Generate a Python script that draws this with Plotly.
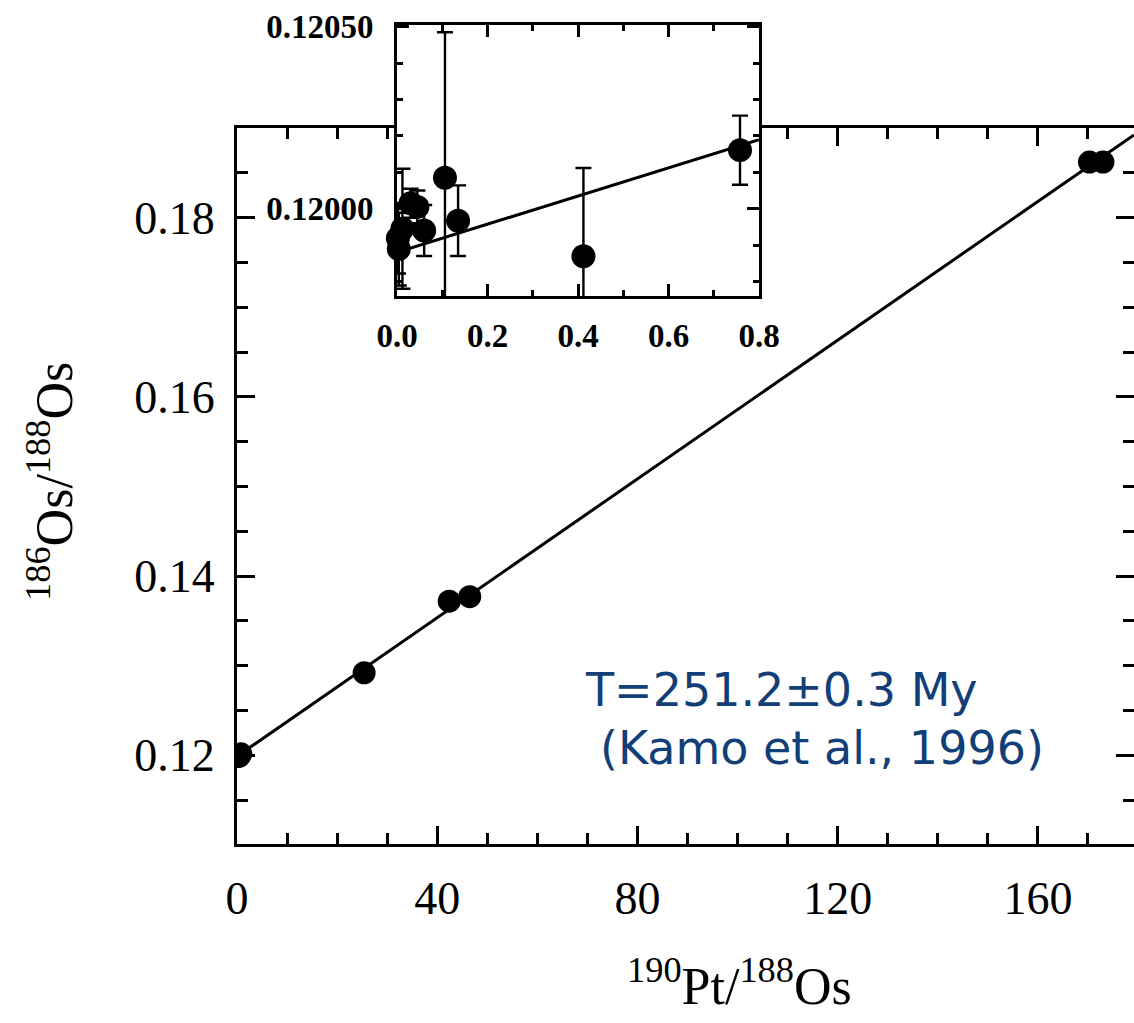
import plotly.graph_objects as go

W, H = 1134, 1023

# ---------------- data ----------------
# low-Pt/Os samples (shown in the inset; they also sit at x~0 in the main panel)
low_pt_os = [0.002, 0.004, 0.012, 0.030, 0.045, 0.060, 0.106, 0.135, 0.412, 0.758]
low_os_os = [0.119919, 0.119889, 0.119945, 0.120015, 0.120005, 0.119940,
             0.120085, 0.119967, 0.119869, 0.120161]
low_err = [0.000097, 0.000100, 0.000165, 0.000040, 0.000045, 0.000070,
           0.000400, 0.000097, 0.000243, 0.000095]

# high-Pt/Os samples (main panel)
high_pt_os = [25.4, 42.4, 46.5, 170.3, 173.0]
high_os_os = [0.1292, 0.1372, 0.1377, 0.1862, 0.1862]

# isochron
iso_intercept = 0.11988
iso_slope = 0.000387

main_xrange = [0, 179.2]
main_yrange = [0.1101, 0.1900]
inset_xrange = [0, 0.8]
inset_yrange = [0.11976, 0.120505]

age_text = "T=251.2±0.3 My"
ref_text = "(Kamo et al., 1996)"
x_title = "<sup>190</sup>Pt/<sup>188</sup>Os"
y_title = "<sup>186</sup>Os/<sup>188</sup>Os"

# ---------------- helpers ----------------
def fx(p):
    return p / W

def fy(p):
    return 1 - p / H

SERIF = "Liberation Serif"
BLUE = "#123f78"

fig = go.Figure()

all_x = low_pt_os + high_pt_os
all_y = low_os_os + high_os_os

# main panel: isochron + points
fig.add_trace(go.Scatter(
    x=main_xrange,
    y=[iso_intercept + iso_slope * v for v in main_xrange],
    mode="lines", line=dict(color="black", width=3),
    xaxis="x", yaxis="y", showlegend=False, hoverinfo="skip"))
fig.add_trace(go.Scatter(
    x=all_x, y=all_y, mode="markers",
    marker=dict(color="black", size=23),
    xaxis="x", yaxis="y", showlegend=False))
# empty trace for the right-hand tick axis
fig.add_trace(go.Scatter(x=[], y=[], xaxis="x", yaxis="y3", showlegend=False))

# inset: isochron + points with error bars
fig.add_trace(go.Scatter(
    x=inset_xrange,
    y=[iso_intercept + iso_slope * v for v in inset_xrange],
    mode="lines", line=dict(color="black", width=3),
    xaxis="x2", yaxis="y2", showlegend=False, hoverinfo="skip"))
fig.add_trace(go.Scatter(
    x=low_pt_os, y=low_os_os, mode="markers",
    marker=dict(color="black", size=24),
    error_y=dict(type="data", array=low_err, visible=True,
                 color="black", thickness=2.4, width=8),
    cliponaxis=False,
    xaxis="x2", yaxis="y2", showlegend=False))

main_tick = dict(ticks="inside", ticklen=18, tickwidth=2.5, tickcolor="black",
                 showline=True, linecolor="black", linewidth=3,
                 showgrid=False, zeroline=False, automargin=False,
                 tickfont=dict(family=SERIF, size=46, color="black"))

fig.update_layout(
    template="none",
    width=W, height=H, autosize=False,
    margin=dict(l=0, r=0, t=0, b=0, pad=0),
    paper_bgcolor="white", plot_bgcolor="white",
    xaxis=dict(domain=[fx(237), 1.0], range=main_xrange, anchor="y",
               tick0=0, dtick=40, mirror="ticks", ticklabelstandoff=12,
               minor=dict(ticks="inside", dtick=10, tick0=0, ticklen=11,
                          tickwidth=2.5, tickcolor="black", showgrid=False),
               **main_tick),
    yaxis=dict(domain=[fy(844), fy(128)], range=main_yrange, anchor="x",
               tick0=0.12, dtick=0.02, tickformat=".2f", ticklabelstandoff=10,
               minor=dict(ticks="inside", dtick=0.005, tick0=0.12, ticklen=11,
                          tickwidth=2.5, tickcolor="black", showgrid=False),
               **main_tick),
    yaxis3=dict(overlaying="y", side="right", anchor="x", range=main_yrange,
                tick0=0.12, dtick=0.02, showticklabels=False, showline=False,
                ticks="inside", ticklen=18, tickwidth=2.5, tickcolor="black",
                showgrid=False, zeroline=False, automargin=False,
                minor=dict(ticks="inside", dtick=0.005, tick0=0.12, ticklen=11,
                           tickwidth=2.5, tickcolor="black", showgrid=False)),
    xaxis2=dict(domain=[fx(397), fx(759)], range=inset_xrange, anchor="y2",
                tick0=0, dtick=0.2, tickformat=".1f", mirror="ticks",
                ticks="inside", ticklen=12, tickwidth=2.5, tickcolor="black",
                showline=True, linecolor="black", linewidth=3,
                showgrid=False, zeroline=False, ticklabelstandoff=8,
                automargin=False,
                tickfont=dict(family=SERIF, size=33, color="black", weight="bold"),
                minor=dict(ticks="inside", dtick=0.1, tick0=0, ticklen=6,
                           tickwidth=2.5, tickcolor="black", showgrid=False)),
    yaxis2=dict(domain=[fy(296), fy(25)], range=inset_yrange, anchor="x2",
                tickmode="array", tickvals=[0.12, 0.1205],
                ticktext=["0.12000", "0.12050"], mirror="ticks",
                ticks="inside", ticklen=12, tickwidth=2.5, tickcolor="black",
                showline=True, linecolor="black", linewidth=3,
                showgrid=False, zeroline=False, ticklabelstandoff=14,
                automargin=False,
                tickfont=dict(family=SERIF, size=33, color="black", weight="bold"),
                minor=dict(ticks="inside", tickmode="linear", dtick=0.0001,
                           tick0=0.12, ticklen=6, tickwidth=2.5,
                           tickcolor="black", showgrid=False)),
    annotations=[
        dict(text=age_text, xref="paper", yref="paper", x=fx(583), y=fy(690),
             xanchor="left", yanchor="middle", showarrow=False,
             font=dict(family="DejaVu Sans", size=46, color=BLUE)),
        dict(text=ref_text, xref="paper", yref="paper", x=fx(598), y=fy(748),
             xanchor="left", yanchor="middle", showarrow=False,
             font=dict(family="DejaVu Sans", size=46, color=BLUE)),
        dict(text=x_title, xref="paper", yref="paper", x=fx(739), y=fy(982),
             xanchor="center", yanchor="middle", showarrow=False,
             font=dict(family=SERIF, size=52, color="black")),
        dict(text=y_title, xref="paper", yref="paper", x=fx(50), y=fy(482),
             xanchor="center", yanchor="middle", showarrow=False, textangle=-90,
             font=dict(family=SERIF, size=52, color="black")),
    ],
)

fig.write_html("out.html")
